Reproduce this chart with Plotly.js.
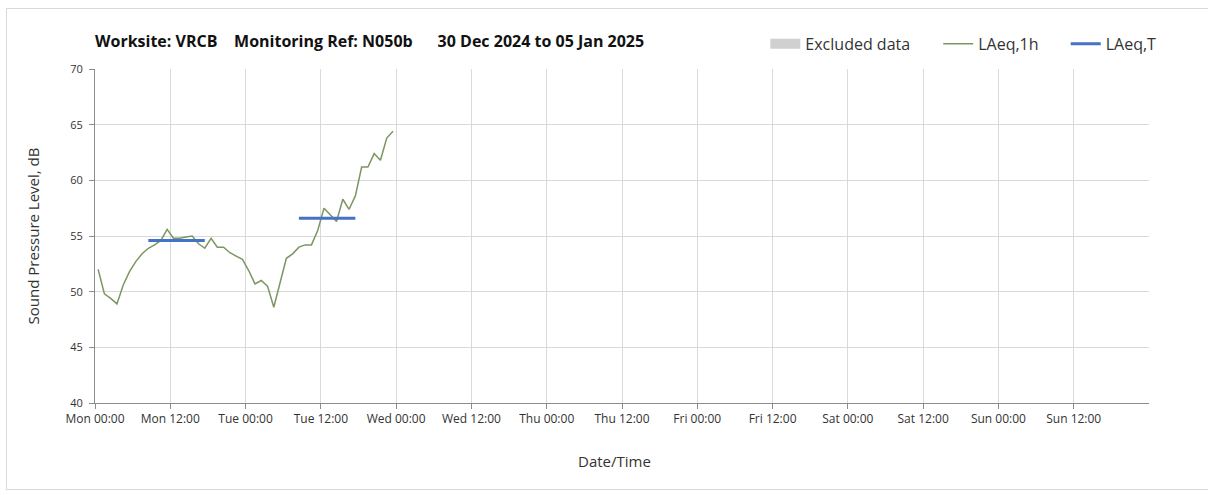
<!DOCTYPE html>
<html>
<head>
<meta charset="utf-8">
<script src="https://cdn.plot.ly/plotly-3.0.1.min.js"></script>
<style>
  html, body { margin: 0; padding: 0; background: #ffffff; }
  #frame { position: absolute; left: 6px; top: 8px; width: 1210px; height: 482px; border: 1px solid #d9d9d9; box-sizing: border-box; }
  #chart { position: absolute; left: 0; top: 0; width: 1208px; height: 495px; }
</style>
</head>
<body>
<div id="frame"></div>
<div id="chart"></div>
<script>
// Hourly LAeq,1h values starting Mon 30 Dec 2024 00:00 (hour index 0..47)
const hourIndex = [0,1,2,3,4,5,6,7,8,9,10,11,12,13,14,15,16,17,18,19,20,21,22,23,
                   24,25,26,27,28,29,30,31,32,33,34,35,36,37,38,39,40,41,42,43,44,45,46,47];
const laeq1h = [52.0,49.8,49.4,48.9,50.6,51.8,52.7,53.4,53.9,54.2,54.6,55.6,
                54.8,54.8,54.9,55.0,54.3,53.9,54.8,54.0,54.0,53.5,53.2,52.9,
                51.9,50.7,51.0,50.5,48.6,50.8,53.0,53.4,54.0,54.2,54.2,55.5,
                57.5,56.9,56.3,58.3,57.4,58.6,61.2,61.2,62.4,61.8,63.8,64.4];
// Period LAeq,T (08:00-18:00), hour indices of first and last hourly value
const periodStart = [8, 32];
const periodEnd = [17, 41];
const laeqT = [54.6, 56.6];
// Each hourly value is plotted at the middle of its hour
const midHour = 0.5;

const tickHours = [0,12,24,36,48,60,72,84,96,108,120,132,144,156];
const tickLabels = ["Mon 00:00","Mon 12:00","Tue 00:00","Tue 12:00","Wed 00:00","Wed 12:00",
                    "Thu 00:00","Thu 12:00","Fri 00:00","Fri 12:00","Sat 00:00","Sat 12:00",
                    "Sun 00:00","Sun 12:00"];

const FONT = "Open Sans, Lato, sans-serif";
const nb = "\u00a0";

const traces = [];
traces.push({
  x: [null], y: [null], type: "scatter", mode: "lines", name: "Excluded data",
  line: { color: "#d0d0d0", width: 10 }, hoverinfo: "skip", legend: "legend"
});
traces.push({
  x: hourIndex.map(h => h + midHour), y: laeq1h, type: "scatter", mode: "lines",
  name: "LAeq,1h", line: { color: "#7b9662", width: 1.5 }, legend: "legend2"
});
for (let i = 0; i < laeqT.length; i++) {
  traces.push({
    x: [periodStart[i] + midHour, periodEnd[i] + midHour], y: [laeqT[i], laeqT[i]],
    type: "scatter", mode: "lines", name: "LAeq,T", showlegend: i === 0, legend: "legend3",
    line: { color: "#4472c4", width: 3 }
  });
}

const legFont = { family: FONT, size: 16, color: "#333333" };
function leg(x) {
  return { orientation: "h", x: x, xanchor: "left", y: 1.075, yanchor: "middle",
           font: legFont, bgcolor: "rgba(0,0,0,0)" };
}

const layout = {
  width: 1208, height: 495,
  paper_bgcolor: "rgba(0,0,0,0)", plot_bgcolor: "rgba(0,0,0,0)",
  margin: { l: 95, r: 59, t: 69, b: 92 },
  font: { family: FONT, color: "#333333" },
  title: {
    text: "<b>Worksite: VRCB" + nb.repeat(4) + "Monitoring Ref: N050b" + nb.repeat(6) + "30 Dec 2024 to 05 Jan 2025</b>",
    font: { family: FONT, size: 16, color: "#111111" },
    x: 0, xref: "paper", xanchor: "left", y: 1, yref: "container", yanchor: "top",
    pad: { t: 36, l: 0 }
  },
  showlegend: true,
  legend: leg(0.636),
  legend2: leg(0.800),
  legend3: leg(0.921),
  xaxis: {
    range: [0, 168], tickmode: "array", tickvals: tickHours, ticktext: tickLabels,
    showgrid: true, gridcolor: "#d9d9d9", gridwidth: 1,
    showline: true, linecolor: "#8c8c8c", linewidth: 1,
    ticks: "outside", ticklen: 5, tickcolor: "#8c8c8c",
    tickfont: { family: FONT, size: 12, color: "#333333" },
    zeroline: false,
    title: { text: "", font: { family: FONT, size: 15, color: "#333333" } }
  },
  yaxis: {
    range: [40, 70], tickvals: [40,45,50,55,60,65,70],
    showgrid: true, gridcolor: "#d9d9d9", gridwidth: 1,
    showline: true, linecolor: "#8c8c8c", linewidth: 1,
    ticks: "outside", ticklen: 5, tickcolor: "#8c8c8c", ticklabelstandoff: 4,
    tickfont: { family: FONT, size: 11, color: "#333333" },
    zeroline: false,
    title: { text: "Sound Pressure Level, dB", font: { family: FONT, size: 15, color: "#333333" }, standoff: 26 }
  },
  annotations: [{
    text: "Date/Time", xref: "paper", yref: "paper", x: 0.493, y: -0.175,
    xanchor: "center", yanchor: "middle", showarrow: false,
    font: { family: FONT, size: 15, color: "#333333" }
  }]
};

Plotly.newPlot("chart", traces, layout, { displayModeBar: false, staticPlot: true });
</script>
</body>
</html>
